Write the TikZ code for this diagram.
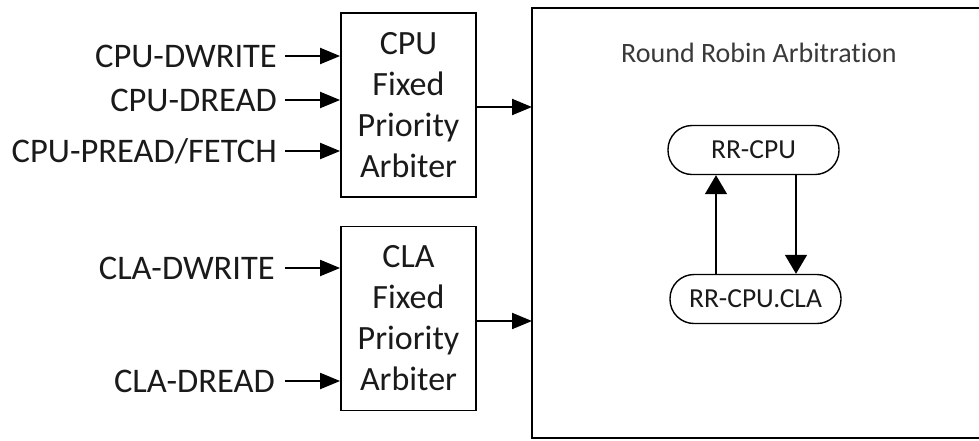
\documentclass[tikz,border=0pt]{standalone}
\usepackage{fontspec}
\setmainfont[Ligatures=NoCommon,Contextuals=NoAlternate]{Carlito}
\usetikzlibrary{arrows.meta}
\definecolor{txt}{HTML}{1A1A1A}
\definecolor{ttl}{HTML}{3A3A3A}
\begin{document}
\begin{tikzpicture}[x=1pt,y=-1pt,
  lbl/.style={anchor=east, inner sep=0pt, text height=22pt, text depth=0pt, font=\fontsize{34.5}{41}\selectfont, text=txt},
  arb/.style={draw, line width=1.8pt, minimum width=135pt, minimum height=184pt, inner sep=0pt, align=center, font=\fontsize{34}{41}\selectfont, text=txt},
  rr/.style={draw, line width=1.4pt, rounded corners=24pt, minimum width=171pt, minimum height=49pt, inner sep=0pt, font=\fontsize{27.5}{32}\selectfont, text=txt},
  arr/.style={line width=2pt, -{Triangle[length=20pt,width=16pt]}},
  rrarr/.style={line width=1.6pt, -{Triangle[length=19pt,width=22pt]}}
]
\useasboundingbox[fill=white] (0,0) rectangle (979,440);
% big round robin box (right side cut by page edge)
\node[minimum width=447pt, minimum height=430pt, inner sep=0pt, anchor=north west] (rrbox) at (532,8) {};
\draw[line width=2pt] (rrbox.north east) -- (rrbox.north west) -- (rrbox.south west) -- (rrbox.south east);
\node[font=\fontsize{28}{34}\selectfont, text=ttl] (title) at (759,53) {Round Robin Arbitration};
% arbiters
\node[arb] (cpu) at (408.5,105) {CPU\\Fixed\\Priority\\Arbiter};
\node[arb] (cla) at (408.5,318.5) {CLA\\Fixed\\Priority\\Arbiter};
% input labels
\node[lbl] (cdw) at (277,56) {CPU-DWRITE};
\node[lbl] (cdr) at (277,100) {CPU-DREAD};
\node[lbl] (cpf) at (277,151) {CPU-PREAD/FETCH};
\node[lbl] (ldw) at (275,268) {CLA-DWRITE};
\node[lbl] (ldr) at (275,381) {CLA-DREAD};
\foreach \n/\s in {cdw/8,cdr/8,cpf/8,ldw/10,ldr/10}{
  \draw[arr] ([xshift=\s pt]\n.east) -- (\n.east -| cpu.west);
}
% outputs
\draw[arr] ([yshift=-2pt]cpu.east) -- ([yshift=-2pt]cpu.east -| rrbox.west);
\draw[arr] ([yshift=-2.5pt]cla.east) -- ([yshift=-2.5pt]cla.east -| rrbox.west);
% RR states
\node[rr] (rr1) at (753.5,150) {RR-CPU};
\node[rr] (rr2) at (755.5,299) {RR-CPU.CLA};
\draw[rrarr] ([xshift=-37.5pt]rr1.south |- rr2.north) -- ([xshift=-37.5pt]rr1.south);
\draw[rrarr] ([xshift=42.5pt]rr1.south) -- ([xshift=42.5pt]rr1.south |- rr2.north);
\end{tikzpicture}
\end{document}
